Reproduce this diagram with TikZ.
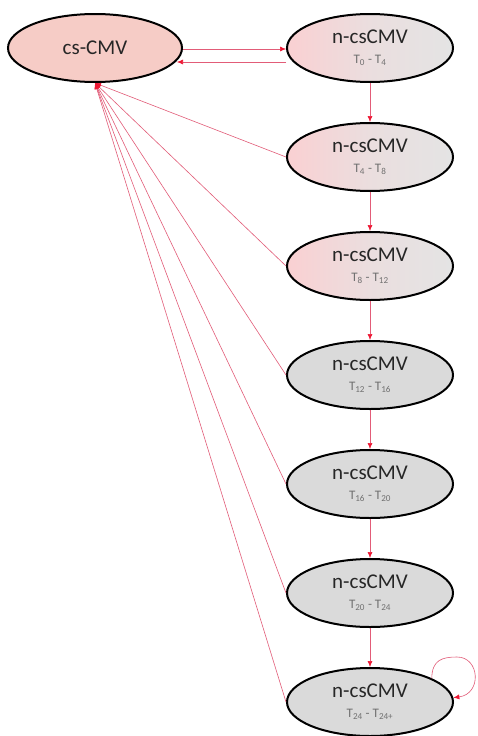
\documentclass[tikz,border=0pt]{standalone}
\usepackage{fontspec}
\setmainfont{Carlito}
\usetikzlibrary{shapes.geometric,arrows.meta}
\definecolor{cspink}{RGB}{246,204,198}
\definecolor{lightpink}{RGB}{250,208,210}
\definecolor{stategrey}{RGB}{218,218,218}
\definecolor{fadegrey}{RGB}{228,228,228}
\definecolor{linkred}{RGB}{226,92,120}
\definecolor{tipred}{RGB}{238,24,52}
\definecolor{subgrey}{RGB}{112,112,112}
\newcommand{\spantext}[2]{{\fontsize{13}{14}\selectfont\color{subgrey}T\textsubscript{#1} - T\textsubscript{#2}}}
\tikzset{
  statebox/.style={ellipse, draw=black, line width=2pt, minimum width=166pt,
    minimum height=68pt, inner sep=0pt, align=center, text=black!85,
    font=\fontsize{21}{21}\selectfont},
  csbox/.style={statebox, minimum width=174pt, fill=cspink},
  fadebox/.style={statebox, left color=lightpink, right color=fadegrey, middle color=fadegrey!70!lightpink},
  greybox/.style={statebox, fill=stategrey},
  link/.style={draw=linkred, line width=0.6pt,
    -{Latex[length=6pt,width=5pt,color=tipred]}},
}
\begin{document}
\begin{tikzpicture}[x=1pt,y=-1pt]
  \useasboundingbox (0,0) rectangle (478,736);
  \fill[white] (0,0) rectangle (478,736);

  % states
  \node[csbox] (cs) at (95,48) {cs-CMV};
  \node[fadebox] (n0) at (370,48)  {n-csCMV\\[-1pt]\spantext{0}{4}};
  \node[fadebox] (n1) at (370,157) {n-csCMV\\[-1pt]\spantext{4}{8}};
  \node[fadebox] (n2) at (370,266) {n-csCMV\\[-1pt]\spantext{8}{12}};
  \node[greybox] (n3) at (370,375) {n-csCMV\\[-1pt]\spantext{12}{16}};
  \node[greybox] (n4) at (370,484) {n-csCMV\\[-1pt]\spantext{16}{20}};
  \node[greybox] (n5) at (370,593) {n-csCMV\\[-1pt]\spantext{20}{24}};
  \node[greybox] (n6) at (370,702) {n-csCMV\\[-1pt]\spantext{24}{24+}};

  % transitions between cs-CMV and the first interval
  \draw[link] ([yshift=-1pt]cs.east) -- ([yshift=-1pt]n0.west);
  \draw[link] ([yshift=-14pt]n0.west) -- ([yshift=-14pt,xshift=-6pt]cs.east);

  % progression down the intervals
  \foreach \a/\b in {n0/n1,n1/n2,n2/n3,n3/n4,n4/n5,n5/n6}
    \draw[link] (\a.south) -- (\b.north);

  % return transitions to cs-CMV
  \foreach \n in {n1,n2,n3,n4,n5,n6}
    \draw[link] (\n.west) -- (cs.south);

  % self loop on the last interval
  \draw[link] (n6.21) .. controls (432,660) and (442,657) .. (457,657)
    .. controls (480,657) and (482,694) .. (n6.3);
\end{tikzpicture}
\end{document}
